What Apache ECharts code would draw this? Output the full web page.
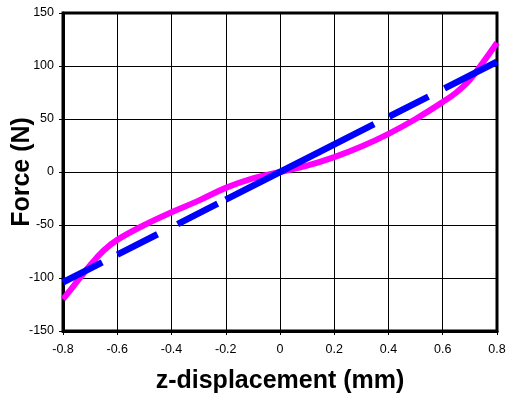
<!DOCTYPE html>
<html>
<head>
<meta charset="utf-8">
<script src="https://cdn.jsdelivr.net/npm/echarts@6/dist/echarts.min.js"></script>
<style>
  html, body { margin: 0; padding: 0; background: #fff; }
  #chart { width: 507px; height: 397px; }
</style>
</head>
<body>
<div id="chart"></div>
<script>
// measured force vs displacement
const measX = [-0.8, -0.75, -0.7, -0.65, -0.6, -0.5, -0.4, -0.3, -0.2, -0.1, 0, 0.1, 0.2, 0.3, 0.4, 0.5, 0.6, 0.65, 0.7, 0.75, 0.8];
const measY = [-120, -104, -88, -74, -64, -50, -38, -27, -15, -6, 0, 6, 14, 24, 36, 50, 66, 75, 87, 104, 122];

// linear fit
const fitX = [-0.8, 0, 0.8];
const fitY = [-104, 0, 104];

const xTicks = { min: -0.8, max: 0.8, step: 0.2 };
const yTicks = { min: -150, max: 150, step: 50 };

const FONT = '"Liberation Sans", Arial, sans-serif';

const chart = echarts.init(document.getElementById('chart'));
chart.setOption({
  animation: false,
  grid: {
    left: 63, right: 10, top: 13, bottom: 66,
    outerBoundsMode: 'none',
    containLabel: false,
    show: true, borderColor: '#000', borderWidth: 3
  },
  xAxis: {
    type: 'value',
    min: xTicks.min, max: xTicks.max, interval: xTicks.step,
    name: 'z-displacement (mm)',
    nameLocation: 'middle',
    nameGap: 38,
    nameMoveOverlap: false,
    nameTextStyle: { fontFamily: FONT, fontSize: 25, fontWeight: 'bold', color: '#000' },
    axisLine: { onZero: false, lineStyle: { color: '#000', width: 3 } },
    axisTick: { show: true, length: 4, lineStyle: { color: '#000', width: 1 } },
    axisLabel: {
      fontFamily: FONT, fontSize: 12.5, color: '#000', margin: 12,
      formatter: v => String(+v.toFixed(1))
    },
    splitLine: { show: true, lineStyle: { color: '#000', width: 1 } }
  },
  yAxis: {
    type: 'value',
    min: yTicks.min, max: yTicks.max, interval: yTicks.step,
    name: 'Force (N)',
    nameLocation: 'middle',
    nameGap: 28,
    nameMoveOverlap: false,
    nameTextStyle: { fontFamily: FONT, fontSize: 25, fontWeight: 'bold', color: '#000' },
    axisLine: { show: true, onZero: false, lineStyle: { color: '#000', width: 3 } },
    axisTick: { show: true, length: 4, lineStyle: { color: '#000', width: 1 } },
    axisLabel: { fontFamily: FONT, fontSize: 12.5, color: '#000', margin: 9 },
    splitLine: { show: true, lineStyle: { color: '#000', width: 1 } }
  },
  series: [
    {
      name: 'measured',
      type: 'line',
      data: measX.map((x, i) => [x, measY[i]]),
      smooth: 0.4,
      symbol: 'none',
      lineStyle: { color: '#ff00ff', width: 6 },
      z: 2
    },
    {
      name: 'fit',
      type: 'line',
      data: fitX.map((x, i) => [x, fitY[i]]),
      symbol: 'none',
      lineStyle: {
        color: '#0000ff', width: 6.5, cap: 'butt',
        type: [44, 17, 45, 22.5, 45, 9, 166.4, 17, 44, 18, 60, 200]
      },
      z: 3
    }
  ]
});
</script>
</body>
</html>
